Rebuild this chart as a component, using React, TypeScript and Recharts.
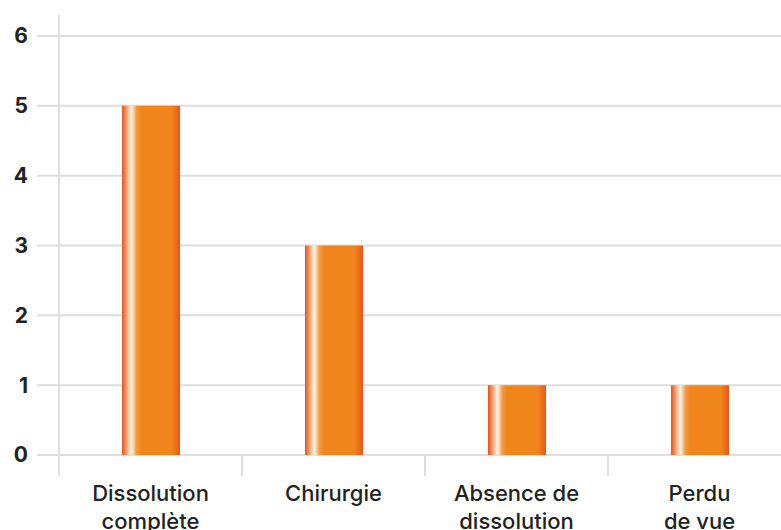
import React from 'react';
import { BarChart, Bar, XAxis, YAxis, CartesianGrid, ReferenceLine } from 'recharts';

const categories = ['Dissolution\ncomplète', 'Chirurgie', 'Absence de\ndissolution', 'Perdu\nde vue'];
const values = [5, 3, 1, 1];
const yTicks = [0, 1, 2, 3, 4, 5, 6];
const boundaryTicks = [0, 1, 2, 3, 4];
const yAxisTop = 6.3;

const data = categories.map((c, i) => ({ name: c, value: values[i], pos: i + 0.5 }));

const FONT = 'Inter';

const CatTick = (props: any) => {
  const { x, y, payload } = props;
  const lines = String(payload.value).split('\n');
  return (
    <g transform={`translate(${x},${y})`}>
      {lines.map((l: string, i: number) => (
        <text key={i} x={0} y={0} dy={i * 28 + 45} textAnchor="middle" fill="#222" fontFamily={FONT} fontSize={22} fontWeight={500}>
          {l}
        </text>
      ))}
    </g>
  );
};

const EmptyTick = () => <g />;

export default function App() {
  return (
    <div style={{ position: 'absolute', left: 0, top: 0, width: 781, height: 530, overflow: 'hidden', background: '#fff' }}>
      <BarChart width={800} height={530} data={data} margin={{ top: 36, right: 9, left: 0, bottom: 0 }} barSize={58}>
        <defs>
          <linearGradient id="barGrad" x1="0" y1="0" x2="1" y2="0">
            <stop offset="0%" stopColor="#e4521c" />
            <stop offset="8%" stopColor="#f3a070" />
            <stop offset="16%" stopColor="#fff6ea" />
            <stop offset="25%" stopColor="#f29a42" />
            <stop offset="33%" stopColor="#f0851c" />
            <stop offset="86%" stopColor="#f0851c" />
            <stop offset="100%" stopColor="#e5581a" />
          </linearGradient>
        </defs>
        <CartesianGrid vertical={false} stroke="#dedede" strokeWidth={2} horizontalValues={yTicks} />
        <XAxis
          xAxisId="bounds"
          type="number"
          dataKey="pos"
          domain={[0, 4]}
          ticks={boundaryTicks}
          tick={<EmptyTick />}
          axisLine={false}
          tickLine={{ stroke: '#dedede', strokeWidth: 2 }}
          tickSize={21}
          height={1}
          allowDataOverflow
        />
        <XAxis
          xAxisId="cat"
          dataKey="name"
          interval={0}
          axisLine={false}
          tickLine={false}
          tick={<CatTick />}
          height={74}
          tickMargin={0}
          tickSize={0}
        />
        <YAxis
          domain={[0, 6]}
          ticks={yTicks}
          interval={0}
          width={59}
          axisLine={{ stroke: '#dedede', strokeWidth: 2 }}
          tickLine={{ stroke: '#dedede', strokeWidth: 2 }}
          tickSize={22}
          tickMargin={9}
          tick={{ fill: '#222', fontFamily: FONT, fontSize: 21, fontWeight: 700 }}
        />
        <ReferenceLine
          xAxisId="bounds"
          segment={[{ x: 0, y: 6 }, { x: 0, y: yAxisTop }]}
          ifOverflow="visible"
          stroke="#dedede"
          strokeWidth={2}
        />
        <Bar xAxisId="cat" dataKey="value" fill="url(#barGrad)" isAnimationActive={false} />
      </BarChart>
    </div>
  );
}
